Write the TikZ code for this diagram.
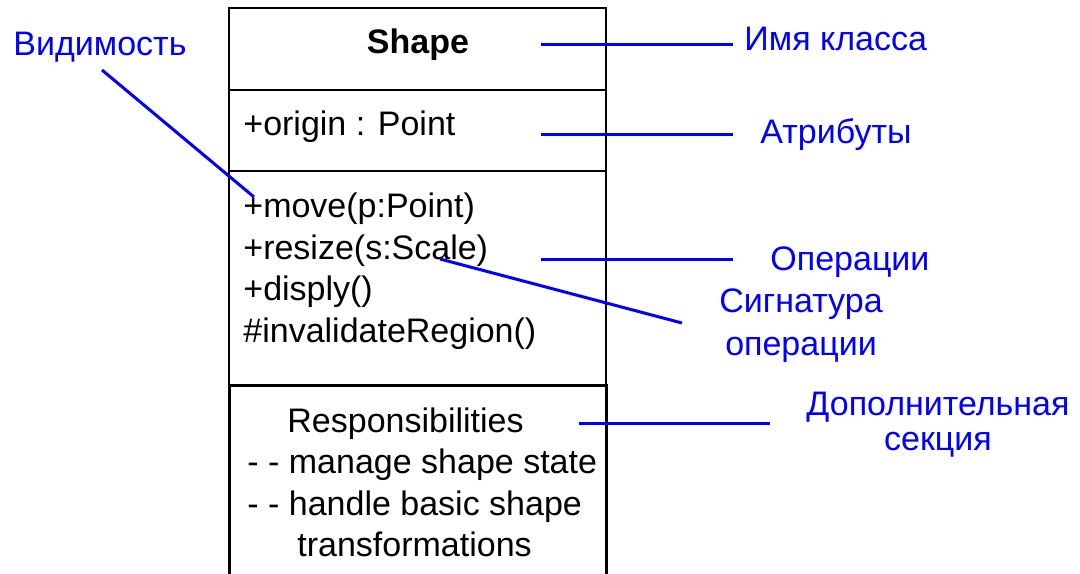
\documentclass[tikz,border=0pt]{standalone}
\usepackage{fontspec}
\setmainfont{Liberation Sans}
\begin{document}
\begin{tikzpicture}[x=0.5pt,y=-0.5pt,
  txt/.style={font=\fontsize{17}{20}\selectfont, inner sep=0pt, anchor=base west},
  ctxt/.style={txt, anchor=base},
  note/.style={txt, text=blue},
  cnote/.style={ctxt, text=blue},
  lead/.style={draw=blue, line width=1.5pt},
  frame/.style={draw=black, line width=0.9pt},
  extra/.style={draw=black, line width=1.5pt}]
\useasboundingbox (0,0) rectangle (1080,573);

% class box: name, attributes and operations compartments
\draw[frame] (229,8) rectangle (606,385);
\draw[frame] (229,90) -- (606,90);
\draw[frame] (229,171) -- (606,171);
% additional compartment
\draw[extra] (229,385) rectangle (606,576);

% compartment contents
\node[ctxt] (cls) at (418,53) {\bfseries Shape};
\node[txt] (attr) at (243,135) {+origin : Point};
\node[txt] (op1) at (243,217) {+move(p:Point)};
\node[txt] (op2) at (243,259) {+resize(s:Scale)};
\node[txt] (op3) at (243,300) {+disply()};
\node[txt] (op4) at (243,342) {\#invalidateRegion()};
\node[txt] (resp) at (287,432) {Responsibilities};
\node[txt] (resp1) at (247,473) {- - manage shape state};
\node[txt] (resp2) at (247,515) {- - handle basic shape};
\node[txt] (resp3) at (297,556) {transformations};

% annotations
\node[note] (lvis) at (13,55) {Видимость};
\node[note] (lname) at (744,50) {Имя класса};
\node[note] (lattr) at (760,143) {Атрибуты};
\node[note] (lops) at (770,270) {Операции};
\node[cnote] (lsig) at (801,312) {Сигнатура};
\node[cnote] (lsigb) at (801,355) {операции};
\node[cnote] (lext) at (938,415) {Дополнительная};
\node[cnote] (lextb) at (938,450) {секция};

% leader line ends
\coordinate (visA) at (102,70);   \coordinate (visB) at (254,197);
\coordinate (nameA) at (541,44);  \coordinate (nameB) at (733,44);
\coordinate (attrA) at (541,134); \coordinate (attrB) at (733,134);
\coordinate (opsA) at (541,259);  \coordinate (opsB) at (733,259);
\coordinate (sigA) at (440,259);  \coordinate (sigB) at (682,323);
\coordinate (extA) at (579,423);  \coordinate (extB) at (770,423);

\draw[lead] (visA) -- (visB);
\draw[lead] (nameA) -- (nameB);
\draw[lead] (attrA) -- (attrB);
\draw[lead] (opsA) -- (opsB);
\draw[lead] (sigA) -- (sigB);
\draw[lead] (extA) -- (extB);
\end{tikzpicture}
\end{document}
